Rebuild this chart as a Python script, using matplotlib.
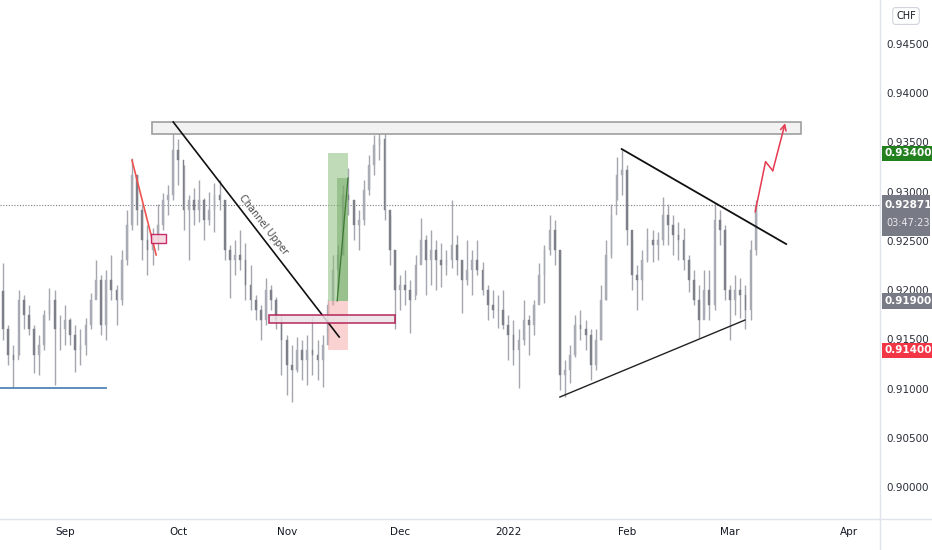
"""USDCHF daily chart with breakout idea annotations (TradingView style)."""

import matplotlib

matplotlib.use("Agg")

import matplotlib.pyplot as plt
import matplotlib.transforms as mtransforms
from matplotlib.lines import Line2D
from matplotlib.patches import Rectangle
import numpy as np


# trading-day index, 0 = 1 Sep 2021
FIRST_DAY = -12
FIRST_OPEN = 0.9200

HIGHS = [
    0.9229, 0.9166, 0.9145, 0.9201, 0.9196, 0.9186, 0.9166, 0.9155, 0.9181, 0.9203,
    0.9201, 0.9176, 0.9186, 0.9173, 0.9166, 0.9161, 0.9173, 0.9198, 0.9232, 0.9216,
    0.9221, 0.9237, 0.9206, 0.9242, 0.9282, 0.9335, 0.9318, 0.9288, 0.9267, 0.9264,
    0.9288, 0.9300, 0.9308, 0.9371, 0.9354, 0.9328, 0.9298, 0.9305, 0.9313, 0.9295,
    0.9301, 0.9310, 0.9313, 0.9293, 0.9247, 0.9252, 0.9262, 0.9249, 0.9227, 0.9196,
    0.9186, 0.9213, 0.9206, 0.9194, 0.9176, 0.9155, 0.9145, 0.9153, 0.9150, 0.9155,
    0.9175, 0.9150, 0.9155, 0.9191, 0.9237, 0.9247, 0.9308, 0.9325, 0.9293, 0.9282,
    0.9313, 0.9338, 0.9359, 0.9372, 0.9364, 0.9277, 0.9242, 0.9216, 0.9221, 0.9211,
    0.9237, 0.9274, 0.9257, 0.9262, 0.9252, 0.9249, 0.9242, 0.9293, 0.9257, 0.9232,
    0.9252, 0.9242, 0.9252, 0.9230, 0.9206, 0.9201, 0.9196, 0.9201, 0.9176, 0.9171,
    0.9161, 0.9191, 0.9176, 0.9191, 0.9229, 0.9247, 0.9277, 0.9272, 0.9242, 0.9130,
    0.9145, 0.9176, 0.9181, 0.9171, 0.9161, 0.9161, 0.9206, 0.9252, 0.9288, 0.9336,
    0.9343, 0.9328, 0.9252, 0.9227, 0.9242, 0.9264, 0.9262, 0.9260, 0.9296, 0.9288,
    0.9277, 0.9270, 0.9264, 0.9237, 0.9221, 0.9206, 0.9221, 0.9221, 0.9290, 0.9282,
    0.9267, 0.9206, 0.9216, 0.9213, 0.9206, 0.9252, 0.9293,
]
LOWS = [
    0.9150, 0.9125, 0.9102, 0.9135, 0.9161, 0.9155, 0.9117, 0.9115, 0.9140, 0.9171,
    0.9105, 0.9140, 0.9145, 0.9145, 0.9118, 0.9125, 0.9135, 0.9161, 0.9196, 0.9155,
    0.9150, 0.9191, 0.9166, 0.9186, 0.9227, 0.9262, 0.9267, 0.9232, 0.9216, 0.9227,
    0.9242, 0.9262, 0.9277, 0.9293, 0.9308, 0.9262, 0.9232, 0.9267, 0.9270, 0.9252,
    0.9267, 0.9260, 0.9282, 0.9232, 0.9193, 0.9216, 0.9221, 0.9191, 0.9181, 0.9171,
    0.9150, 0.9166, 0.9181, 0.9161, 0.9115, 0.9094, 0.9087, 0.9118, 0.9110, 0.9105,
    0.9115, 0.9110, 0.9103, 0.9150, 0.9186, 0.9201, 0.9237, 0.9277, 0.9252, 0.9242,
    0.9267, 0.9298, 0.9318, 0.9333, 0.9272, 0.9227, 0.9161, 0.9181, 0.9186, 0.9157,
    0.9196, 0.9232, 0.9196, 0.9206, 0.9201, 0.9204, 0.9216, 0.9223, 0.9216, 0.9178,
    0.9206, 0.9196, 0.9216, 0.9196, 0.9171, 0.9173, 0.9163, 0.9161, 0.9130, 0.9125,
    0.9102, 0.9145, 0.9135, 0.9155, 0.9191, 0.9188, 0.9237, 0.9227, 0.9100, 0.9092,
    0.9107, 0.9133, 0.9150, 0.9140, 0.9110, 0.9120, 0.9150, 0.9191, 0.9234, 0.9293,
    0.9298, 0.9247, 0.9201, 0.9181, 0.9191, 0.9230, 0.9230, 0.9232, 0.9247, 0.9247,
    0.9237, 0.9232, 0.9221, 0.9199, 0.9186, 0.9152, 0.9176, 0.9171, 0.9181, 0.9247,
    0.9191, 0.9150, 0.9176, 0.9173, 0.9161, 0.9171, 0.9237,
]
CLOSES = [
    0.9161, 0.9135, 0.9130, 0.9191, 0.9176, 0.9161, 0.9135, 0.9145, 0.9176, 0.9191,
    0.9161, 0.9161, 0.9171, 0.9155, 0.9140, 0.9145, 0.9166, 0.9191, 0.9211, 0.9166,
    0.9211, 0.9201, 0.9191, 0.9232, 0.9267, 0.9318, 0.9282, 0.9252, 0.9242, 0.9252,
    0.9267, 0.9293, 0.9298, 0.9343, 0.9333, 0.9282, 0.9293, 0.9282, 0.9293, 0.9272,
    0.9282, 0.9298, 0.9293, 0.9242, 0.9232, 0.9237, 0.9232, 0.9206, 0.9191, 0.9181,
    0.9171, 0.9201, 0.9191, 0.9171, 0.9150, 0.9125, 0.9120, 0.9140, 0.9130, 0.9140,
    0.9135, 0.9130, 0.9145, 0.9186, 0.9221, 0.9237, 0.9298, 0.9293, 0.9267, 0.9272,
    0.9303, 0.9328, 0.9348, 0.9354, 0.9282, 0.9242, 0.9201, 0.9206, 0.9201, 0.9191,
    0.9227, 0.9252, 0.9232, 0.9242, 0.9232, 0.9227, 0.9232, 0.9247, 0.9232, 0.9211,
    0.9221, 0.9232, 0.9221, 0.9201, 0.9186, 0.9181, 0.9181, 0.9166, 0.9155, 0.9140,
    0.9150, 0.9171, 0.9166, 0.9186, 0.9216, 0.9242, 0.9262, 0.9242, 0.9115, 0.9120,
    0.9135, 0.9166, 0.9161, 0.9155, 0.9125, 0.9150, 0.9191, 0.9237, 0.9277, 0.9318,
    0.9323, 0.9262, 0.9216, 0.9211, 0.9232, 0.9252, 0.9247, 0.9252, 0.9277, 0.9267,
    0.9257, 0.9252, 0.9232, 0.9211, 0.9191, 0.9171, 0.9201, 0.9186, 0.9272, 0.9262,
    0.9201, 0.9191, 0.9201, 0.9196, 0.9181, 0.9242, 0.92871,
]

MONTH_TICKS = [0, 22, 43, 65, 86, 109, 129, 152]
MONTH_LABELS = ["Sep", "Oct", "Nov", "Dec", "2022", "Feb", "Mar", "Apr"]
PRICE_TICKS = [0.900, 0.905, 0.910, 0.915, 0.920, 0.925, 0.930, 0.935, 0.940, 0.945]

LAST_PRICE = 0.92871
COUNTDOWN = "03:47:23"
TARGET_PRICE = 0.934
ENTRY_PRICE = 0.919
STOP_PRICE = 0.914

# drawings (day index, price)
RESISTANCE_ZONE = (16.9, 142.8, 0.93596, 0.93718)
CHANNEL_LINE = ([21.0, 53.2], [0.93718, 0.91534])
RED_DROP = ([13.0, 17.7], [0.9333, 0.92367])
SMALL_BOX = (16.7, 19.6, 0.92489, 0.92580)
DEMAND_BOX = (39.6, 64.0, 0.91676, 0.91757)
POSITION_DAYS = (51.0, 54.9)
POSITION_FILL = (52.8, 0.93149)
TRI_UPPER = ([108.0, 139.9], [0.93443, 0.92478])
TRI_LOWER = ([96.0, 131.9], [0.90924, 0.91706])
SUPPORT_LINE = ([-12.6, 7.9], [0.91016, 0.91016])
ARROW_PATH = ([133.9, 135.9, 137.3, 139.7], [0.92807, 0.93315, 0.93223, 0.93705])

X_LIMITS = (-12.6, 158.1)
Y_LIMITS = (0.89685, 0.94957)


fig = plt.figure(figsize=(9.32, 5.5), dpi=100)
fig.patch.set_facecolor("white")
ax = fig.add_axes([0.0, 31 / 550, 880 / 932, 519 / 550])
ax.set_xlim(*X_LIMITS)
ax.set_ylim(*Y_LIMITS)
for spine in ax.spines.values():
    spine.set_visible(False)

# candles
days = np.arange(FIRST_DAY, FIRST_DAY + len(CLOSES))
highs = np.array(HIGHS)
lows = np.array(LOWS)
closes = np.array(CLOSES)
opens = np.concatenate([[FIRST_OPEN], closes[:-1]])
up = closes >= opens

ax.vlines(days, lows, highs, color="#a4a7ae", linewidth=1.0, zorder=2)
ax.bar(days[up], (closes - opens)[up], bottom=opens[up], width=0.34,
       color="#a9acb4", edgecolor="#a9acb4", linewidth=0.3, zorder=3)
ax.bar(days[~up], (closes - opens)[~up], bottom=opens[~up], width=0.34,
       color="#7d8089", edgecolor="#7d8089", linewidth=0.3, zorder=3)

# last price line
ax.axhline(LAST_PRICE, color="#787b86", linewidth=0.8, linestyle=(0, (1, 1.5)), zorder=1)

# resistance zone
x0, x1, y0, y1 = RESISTANCE_ZONE
ax.add_patch(Rectangle((x0, y0), x1 - x0, y1 - y0, facecolor="#f2f2f2",
                       edgecolor="#9e9e9e", linewidth=1.2, zorder=4))

# channel upper
ax.plot(*CHANNEL_LINE, color="#111111", linewidth=1.2, zorder=5)
ax.text(38.4, 0.92671, "Channel Upper", rotation=-52, rotation_mode="anchor",
        ha="center", va="center", fontsize=7, color="#4a4a4a", zorder=5)

ax.plot(*RED_DROP, color="#ef5350", linewidth=1.2, zorder=5)

x0, x1, y0, y1 = SMALL_BOX
ax.add_patch(Rectangle((x0, y0), x1 - x0, y1 - y0, facecolor="#f6d6de",
                       edgecolor="#c2185b", linewidth=1.0, alpha=0.9, zorder=5))

x0, x1, y0, y1 = DEMAND_BOX
ax.add_patch(Rectangle((x0, y0), x1 - x0, y1 - y0, facecolor="#ece3e6",
                       edgecolor="#b0174f", linewidth=1.2, alpha=0.85, zorder=5))

# long position box
p0, p1 = POSITION_DAYS
ax.add_patch(Rectangle((p0, ENTRY_PRICE), p1 - p0, TARGET_PRICE - ENTRY_PRICE,
                       facecolor="#8cbf7e", alpha=0.55, linewidth=0, zorder=4))
ax.add_patch(Rectangle((p0, STOP_PRICE), p1 - p0, ENTRY_PRICE - STOP_PRICE,
                       facecolor="#f7b5b5", alpha=0.6, linewidth=0, zorder=4))
fill_x, fill_top = POSITION_FILL
ax.add_patch(Rectangle((fill_x, ENTRY_PRICE), p1 - fill_x, fill_top - ENTRY_PRICE,
                       facecolor="#5f9a50", alpha=0.4, linewidth=0, zorder=4))
ax.plot([fill_x, p1], [ENTRY_PRICE, fill_top], color="#3d7a32", linewidth=0.9, zorder=4)

# triangle
ax.plot(*TRI_UPPER, color="#111111", linewidth=1.3, zorder=5)
ax.plot(*TRI_LOWER, color="#222222", linewidth=1.0, zorder=5)

ax.plot(*SUPPORT_LINE, color="#4f86b5", linewidth=1.3, zorder=5)

# projected path
ax_x, ax_y = ARROW_PATH
ax.plot(ax_x[:-1], ax_y[:-1], color="#e53950", linewidth=1.1, zorder=6)
ax.annotate("", xy=(ax_x[-1], ax_y[-1]), xytext=(ax_x[-2], ax_y[-2]),
            arrowprops=dict(arrowstyle="->", color="#e53950", lw=1.1,
                            shrinkA=0, shrinkB=0, mutation_scale=10), zorder=6)

# time axis
ax.set_xticks(MONTH_TICKS)
ax.set_xticklabels(MONTH_LABELS)
ax.tick_params(axis="x", length=0, pad=6, labelsize=7.5, labelcolor="#131722")
ax.set_yticks([])

# price scale on the right
trans = mtransforms.blended_transform_factory(ax.transAxes, ax.transData)
label_x = 1.0 + 28 / 880
for price in PRICE_TICKS:
    ax.text(label_x, price, f"{price:.5f}", transform=trans, ha="center", va="center",
            fontsize=7.5, color="#2a2e39", clip_on=False)

price_boxes = [
    (TARGET_PRICE, "#23801f"),
    (ENTRY_PRICE, "#787b86"),
    (STOP_PRICE, "#f23645"),
]
for price, colour in price_boxes:
    ax.text(label_x, price, f"{price:.5f}", transform=trans, ha="center", va="center",
            fontsize=7.5, color="white", fontweight="bold", clip_on=False, zorder=10,
            bbox=dict(boxstyle="square,pad=0.25", facecolor=colour, edgecolor="none"))

ax.add_patch(Rectangle((1.0 + 2 / 880, LAST_PRICE - 0.0031), 48 / 880, 0.0042,
                       transform=trans, facecolor="#787b86", edgecolor="none",
                       clip_on=False, zorder=10))
ax.text(label_x, LAST_PRICE, f"{LAST_PRICE:.5f}", transform=trans, ha="center",
        va="center", fontsize=7.5, color="white", fontweight="bold", clip_on=False, zorder=11)
ax.text(label_x, LAST_PRICE - 0.0018, COUNTDOWN, transform=trans, ha="center",
        va="center", fontsize=7, color="#e8e8ec", clip_on=False, zorder=11)

fig.text(906 / 932, 1 - 16 / 550, "CHF", ha="center", va="center", fontsize=7,
         color="#131722",
         bbox=dict(boxstyle="round,pad=0.35,rounding_size=0.3", facecolor="white",
                   edgecolor="#d1d4dc", linewidth=0.8))

# panel separators
fig.add_artist(Line2D([880 / 932, 880 / 932], [0, 1], color="#e0e3eb", linewidth=1.0))
fig.add_artist(Line2D([0, 1], [31 / 550, 31 / 550], color="#e0e3eb", linewidth=1.0))

fig.savefig("out.png", dpi=100, facecolor="white")
